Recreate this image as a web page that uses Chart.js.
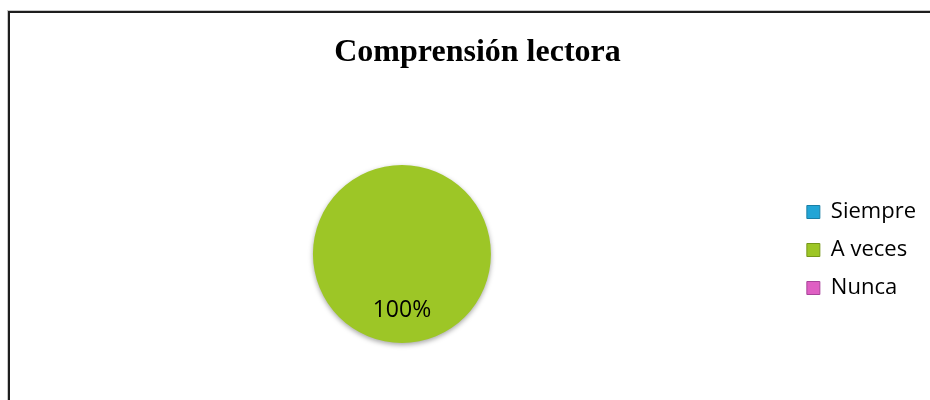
<!DOCTYPE html>
<html>
<head>
<meta charset="utf-8">
<script src="https://cdn.jsdelivr.net/npm/chart.js@4"></script>
<style>
  body { margin: 0; background: #fff; }
  #frame {
    position: absolute; left: 8px; top: 11px; width: 1000px; height: 500px;
    border-left: 2px solid #1e1e1e; border-top: 2px solid #1e1e1e;
    box-shadow: -1px -1px 0 #c8c8c8;
  }
  #wrap { position: absolute; left: 0; top: 0; width: 930px; height: 400px; }
</style>
</head>
<body>
<div id="frame"></div>
<div id="wrap"><canvas id="pieChart"></canvas></div>
<script>
// Datos del gráfico
const categories = ['Siempre', 'A veces', 'Nunca'];
const percentages = [0, 100, 0];
const sliceColors = ['#22a5d6', '#9dc626', '#df5fc3'];
const sliceBorders = ['#1a7fa6', '#76971a', '#a8449a'];

// Plugin to draw the percentage label near the bottom of the slice
const sliceLabels = {
    id: 'sliceLabels',
    afterDatasetsDraw(chart) {
        const ctx = chart.ctx;
        const meta = chart.getDatasetMeta(0);
        ctx.save();
        ctx.font = '23px "Open Sans"';
        ctx.fillStyle = '#000';
        ctx.textAlign = 'center';
        ctx.textBaseline = 'middle';
        meta.data.forEach((arc, i) => {
            if (!percentages[i]) return;
            const p = arc.getProps(['x', 'y', 'startAngle', 'endAngle', 'outerRadius'], true);
            const mid = (p.startAngle + p.endAngle) / 2;
            const r = p.outerRadius * 0.63;
            ctx.fillText(percentages[i] + '%', p.x + Math.cos(mid) * r, p.y + Math.sin(mid) * r);
        });
        ctx.restore();
    }
};

// Soft shadow under the pie
const pieShadow = {
    id: 'pieShadow',
    beforeDatasetsDraw(chart) {
        const ctx = chart.ctx;
        ctx.save();
        ctx.shadowColor = 'rgba(0, 0, 0, 0.35)';
        ctx.shadowBlur = 5;
        ctx.shadowOffsetY = 2;
    },
    afterDatasetsDraw(chart) {
        chart.ctx.restore();
    }
};

// Title in the original sits a bit right of the canvas centre
const titleNudge = {
    id: 'titleNudge',
    afterLayout(chart) {
        if (chart.titleBlock) chart.titleBlock.left += 16;
    }
};

const ctx = document.getElementById('pieChart').getContext('2d');
const pieChart = new Chart(ctx, {
    type: 'pie',
    data: {
        labels: categories,
        datasets: [{
            data: percentages,
            backgroundColor: sliceColors,
            borderWidth: 0,
        }]
    },
    plugins: [pieShadow, sliceLabels, titleNudge],
    options: {
        responsive: true,
        maintainAspectRatio: false,
        animation: false,
        layout: {
            padding: { left: 13, right: 4, top: 0, bottom: 57 }
        },
        plugins: {
            title: {
                display: true,
                text: 'Comprensión lectora',
                color: '#000',
                font: { family: '"Liberation Serif", "Times New Roman", serif', size: 32, weight: 'bold' },
                padding: { top: 34, bottom: 92.6 },
            },
            legend: {
                position: 'right',
                fullSize: false,
                // empty title with negative padding just nudges the items up a bit
                title: { display: true, text: '', color: '#000', font: { size: 0 }, padding: { top: -8, bottom: 0 } },
                labels: {
                    color: '#000',
                    font: { family: '"Open Sans"', size: 22 },
                    boxWidth: 13,
                    boxHeight: 13,
                    padding: 16,
                    generateLabels: (chart) => categories.map((name, i) => ({
                        text: name,
                        fillStyle: sliceColors[i],
                        strokeStyle: sliceBorders[i],
                        fontColor: '#000',
                        lineWidth: 1,
                        hidden: false,
                        index: i,
                    })),
                }
            },
            tooltip: { enabled: false }
        }
    }
});
</script>
</body>
</html>
